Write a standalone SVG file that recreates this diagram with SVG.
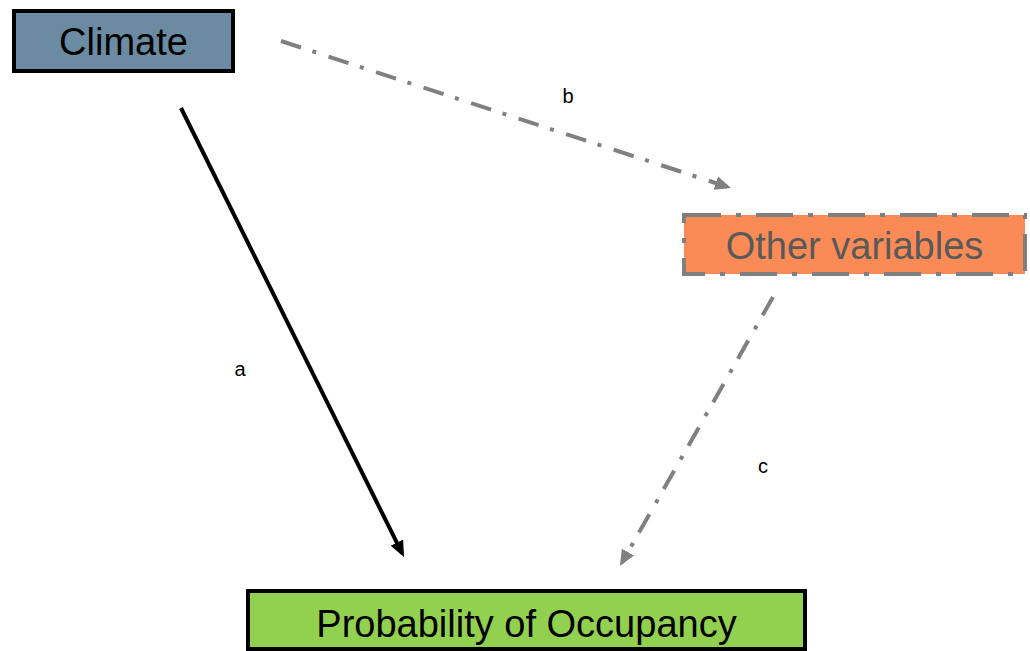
<svg xmlns="http://www.w3.org/2000/svg" width="1030" height="651" viewBox="0 0 1030 651">
<style>
.lbl{font-family:"Liberation Sans",Arial,sans-serif;font-size:38px;text-anchor:middle}
.edge{font-family:"Liberation Sans",Arial,sans-serif;font-size:20px;fill:#000;text-anchor:middle}
.solid{stroke:#000;stroke-width:4;fill:none}
.dd{stroke:#808080;stroke-width:4;fill:none;stroke-dasharray:21 12 4 13}
</style>
<defs>
<marker id="ah" markerWidth="4" markerHeight="3.5" refX="3" refY="1.75" orient="auto" markerUnits="strokeWidth">
<path d="M0,0 L4,1.75 L0,3.5 Z" fill="#000"/>
</marker>
<marker id="ahg" markerWidth="4" markerHeight="3.5" refX="3" refY="1.75" orient="auto" markerUnits="strokeWidth">
<path d="M0,0 L4,1.75 L0,3.5 Z" fill="#808080"/>
</marker>
</defs>
<rect width="1030" height="651" fill="#fff"/>
<g id="connectors">
<line class="solid" x1="181" y1="108" x2="402.2" y2="553.4" marker-end="url(#ah)"/>
<line class="dd" x1="281" y1="41" x2="727.2" y2="186.8" marker-end="url(#ahg)"/>
<line class="dd" x1="773" y1="297" x2="622" y2="562.5" marker-end="url(#ahg)"/>
<text class="edge" x="240" y="376">a</text>
<text class="edge" x="568" y="103">b</text>
<text class="edge" x="763" y="473">c</text>
</g>
<g id="climate">
<rect x="14" y="11" width="219" height="60" fill="#6a8ba2" stroke="#000" stroke-width="4"/>
<text class="lbl" x="123.5" y="55" fill="#000">Climate</text>
</g>
<g id="other">
<rect x="684" y="215" width="341" height="59" fill="#fa8b56" stroke="#7f7f7f" stroke-width="4" stroke-dasharray="37 15 5 15"/>
<text class="lbl" x="854.5" y="259" fill="#595959">Other variables</text>
</g>
<g id="probability">
<rect x="248" y="591" width="557" height="58" fill="#92d050" stroke="#000" stroke-width="4"/>
<text class="lbl" x="526.5" y="637" fill="#000">Probability of Occupancy</text>
</g>
</svg>
